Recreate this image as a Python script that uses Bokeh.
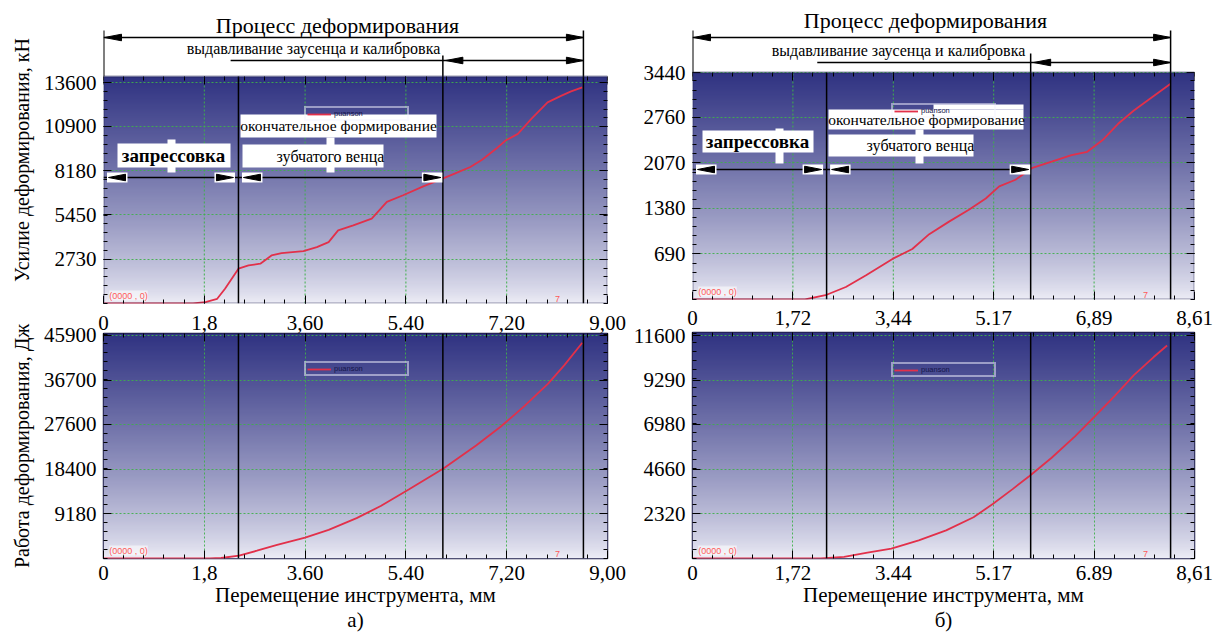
import numpy as np
from bokeh.plotting import figure
from bokeh.models import (FixedTicker, LinearAxis, Range1d, Arrow, Label,
                          BoxAnnotation, PolyAnnotation, Grid)
from bokeh.layouts import row, column
from bokeh.embed import file_html
from bokeh.resources import INLINE

# ---------------- data: panel а) ----------------
a_x_ticks = [0, 1.8, 3.6, 5.4, 7.2, 9.0]
a_x_labels_mid = ["0", "1,8", "3,60", "5.40", "7,20", "9,00"]
a_x_labels_bot = ["0", "1,8", "3.60", "5.40", "7,20", "9,00"]
a_force_ticks = [2730, 5450, 8180, 10900, 13600]
a_work_ticks = [9180, 18400, 27600, 36700, 45900]
a_phase = [2.41, 6.06, 8.57]
a_extrude_start = 2.27
a_force_x = [0.0, 1.6, 1.82, 2.03, 2.17, 2.41, 2.59, 2.80, 3.00, 3.18, 3.57, 3.81, 4.02, 4.19,
             4.46, 4.79, 5.06, 5.35, 5.71, 6.01, 6.27, 6.55, 6.76, 7.01, 7.18, 7.40, 7.64, 7.93,
             8.17, 8.35, 8.55]
a_force_y = [0, 0, 90, 290, 905, 2140, 2340, 2450, 2960, 3100, 3225, 3470, 3780, 4500,
             4810, 5220, 6250, 6660, 7210, 7620, 7990, 8400, 8850, 9520, 10030, 10440, 11360, 12380,
             12780, 13050, 13300]
a_work_x = [0.0, 1.9, 2.1, 2.42, 2.74, 3.1, 3.6, 4.02, 4.52, 4.95, 5.45, 6.07, 6.66, 7.09,
            7.51, 7.94, 8.23, 8.55]
a_work_y = [0, 0, 100, 600, 1600, 2800, 4300, 5900, 8300, 10800, 14200, 18500, 23300, 27100,
            31300, 36000, 39800, 44400]

# ---------------- data: panel б) ----------------
b_x_ticks = [0, 1.722, 3.444, 5.166, 6.888, 8.61]
b_x_labels_mid = ["0", "1,72", "3,44", "5.17", "6,89", "8,61"]
b_x_labels_bot = ["0", "1,72", "3.44", "5.17", "6.89", "8,61"]
b_force_ticks = [690, 1380, 2070, 2760, 3440]
b_work_ticks = [2320, 4660, 6980, 9290, 11600]
b_phase = [2.30, 5.80, 8.20]
b_extrude_start = 2.14
b_force_x = [0.0, 1.93, 2.28, 2.63, 2.97, 3.43, 3.77, 4.06, 4.40, 4.74, 5.03, 5.26, 5.54, 5.83,
             6.16, 6.50, 6.77, 7.03, 7.30, 7.57, 7.84, 8.20]
b_force_y = [0, 0, 65, 190, 365, 615, 765, 990, 1180, 1360, 1530, 1715, 1815, 1995,
             2088, 2188, 2238, 2413, 2663, 2864, 3039, 3270]
b_work_x = [0.0, 2.2, 2.6, 3.0, 3.41, 3.88, 4.35, 4.82, 5.15, 5.49, 5.78, 6.16, 6.56, 6.9,
            7.23, 7.57, 7.91, 8.14]
b_work_y = [0, 0, 86, 310, 516, 946, 1462, 2150, 2838, 3612, 4300, 5246, 6364, 7396,
            8428, 9546, 10492, 11094]

# ---------------- texts ----------------
T_PROCESS = "Процесс деформирования"
T_EXTRUDE = "выдавливание заусенца и калибровка"
T_PRESS = "запрессовка"
T_FINAL1 = "окончательное формирование"
T_FINAL2 = "зубчатого венца"
T_FORCE = "Усилие деформирования, кН"
T_WORK = "Работа деформирования, Дж"
T_XTITLE = "Перемещение инструмента, мм"
LEGEND = "puanson"

SERIF = "Liberation Serif"
RED = "#e2304a"
FRAME_COLOR = "#1c1c48"
GRID_COLOR = "#3fb04a"


class Frame:
    """maps page pixels of the data area to data units"""
    def __init__(self, left, top, w, h, xmax, ymax):
        self.left, self.top, self.w, self.h, self.xmax, self.ymax = left, top, w, h, xmax, ymax

    def x(self, X):
        return (X - self.left) / self.w * self.xmax

    def y(self, Y):
        return (self.top + self.h - Y) / self.h * self.ymax

    def dx(self, px):
        return px / self.w * self.xmax

    def dy(self, px):
        return px / self.h * self.ymax


def gradient(ny=200):
    t = np.linspace(0, 1, ny) ** 0.8
    top = np.array([48, 51, 130.0])
    bot = np.array([238, 238, 247.0])
    rgb = bot + (top - bot) * t[:, None]
    img = np.empty((ny, 1), dtype=np.uint32)
    v = img.view(dtype=np.uint8).reshape((ny, 1, 4))
    v[:, 0, 0] = rgb[:, 0]
    v[:, 0, 1] = rgb[:, 1]
    v[:, 0, 2] = rgb[:, 2]
    v[:, 0, 3] = 255
    return img


def base_fig(width, height, bl, br, bt, bb, fr, y_end, outline):
    p = figure(width=width, height=height, x_range=Range1d(0, fr.xmax), y_range=Range1d(0, y_end),
               output_backend="svg", toolbar_location=None, x_axis_location=None, y_axis_location=None,
               min_border_left=bl, min_border_right=br, min_border_top=bt, min_border_bottom=bb,
               background_fill_color="white", border_fill_color="white",
               outline_line_color=FRAME_COLOR if outline else None, outline_line_width=1.5)
    p.center = [r for r in p.center if not isinstance(r, Grid)]
    p.image_rgba(image=[gradient()], x=0, y=0, dw=fr.xmax, dh=fr.ymax, level="image")
    return p


def add_axis(p, side, ticks, minor, labels=None, standoff=0, fixed=None):
    ax = LinearAxis(ticker=FixedTicker(ticks=ticks, minor_ticks=minor))
    ax.axis_line_color = None
    ax.major_tick_in = 8
    ax.major_tick_out = 0
    ax.minor_tick_in = 4
    ax.minor_tick_out = 0
    ax.major_tick_line_color = "black"
    ax.minor_tick_line_color = "black"
    if fixed is not None:
        ax.fixed_location = fixed
    if labels is None:
        ax.major_label_text_font_size = "0px"
        ax.major_label_text_alpha = 0
        ax.major_label_standoff = 0
    else:
        ax.major_label_overrides = {t: l for t, l in zip(ticks, labels)}
        ax.major_label_text_font = SERIF
        ax.major_label_text_font_size = "21px"
        ax.major_label_text_color = "black"
        ax.major_label_standoff = standoff
    p.add_layout(ax, side)
    return ax


def axis_title(ax, s, size, standoff, line_height=1.2):
    ax.axis_label = s
    ax.axis_label_text_font = SERIF
    ax.axis_label_text_font_size = f"{size}px"
    ax.axis_label_text_font_style = "normal"
    ax.axis_label_text_color = "black"
    ax.axis_label_standoff = standoff
    ax.axis_label_text_line_height = line_height


def seg(p, x0, y0, x1, y1, w=1.4, color="black", dash="solid", level="annotation"):
    p.add_layout(Arrow(start=None, end=None, x_start=x0, y_start=y0, x_end=x1, y_end=y1,
                       line_color=color, line_width=w, line_dash=dash, level=level))


def head(p, fr, tip_x, y, direction, boxed=False):
    L = fr.dx(17)
    W = fr.dy(3.3)
    if boxed:
        x_a = tip_x + direction * fr.dx(1.5)
        x_b = tip_x - direction * fr.dx(19)
        p.add_layout(BoxAnnotation(left=min(x_a, x_b), right=max(x_a, x_b), bottom=y - fr.dy(5),
                                   top=y + fr.dy(5), fill_color="white", fill_alpha=1, line_color=None))
    xs = [tip_x, tip_x - direction * L, tip_x - direction * L]
    ys = [y, y + W, y - W]
    p.add_layout(PolyAnnotation(xs=xs, ys=ys, fill_color="black", fill_alpha=1,
                                line_color="black", line_alpha=1, line_width=1))


def wbox(p, fr, L, R, T, B):
    p.add_layout(BoxAnnotation(left=fr.x(L), right=fr.x(R), top=fr.y(T), bottom=fr.y(B),
                               fill_color="white", fill_alpha=1, line_color=None))


def text(p, x, y, s, size, bold=False, color="black", font=SERIF, bg=None):
    lab = Label(x=x, y=y, text=s, text_font=font, text_font_size=f"{size}px",
                text_font_style="bold" if bold else "normal", text_align="center",
                text_baseline="middle", text_color=color)
    if bg is not None:
        lab.background_fill_color = bg
        lab.background_fill_alpha = 0.55
    p.add_layout(lab)


def style_legend(p, loc):
    lg = p.legend[0]
    lg.location = loc
    lg.background_fill_alpha = 0
    lg.border_line_color = "#f4f4ff"
    lg.border_line_width = 2
    lg.label_text_font = "Liberation Sans"
    lg.label_text_font_size = "7.5px"
    lg.label_text_color = "#15154a"
    lg.padding = 1
    lg.margin = 0
    lg.spacing = 0
    lg.glyph_height = 8
    lg.glyph_width = 24
    lg.label_height = 8
    lg.label_width = 72
    lg.label_standoff = 3


def build_panel(P):
    xmax = P["x_ticks"][-1]
    xminor = list(np.round(np.arange(0, xmax + 1e-6, P["x_ticks"][1] / 5), 4))
    ph = P["phase"]
    inner_x = P["x_ticks"][1:-1]

    # ---------- top: force (frame also holds the dimension lines above the data area) ----------
    ft = P["top"]
    fr = Frame(P["fl"], ft["ft"], P["fw"], ft["fh"], xmax, ft["ymax"])
    frame_h_total = ft["ft"] + ft["fh"] - ft["bt"]
    p = base_fig(P["col_w"], ft["h"], P["bl"], P["col_w"] - P["bl"] - P["fw"], ft["bt"],
                 ft["h"] - ft["bt"] - frame_h_total, fr, fr.y(ft["bt"]), outline=False)
    ystep = P["force_ticks"][1] - P["force_ticks"][0]
    yminor = list(np.arange(0, fr.ymax, ystep / 5))
    add_axis(p, "below", P["x_ticks"], xminor)
    add_axis(p, "above", P["x_ticks"], xminor, fixed=fr.ymax)
    axl = add_axis(p, "left", P["force_ticks"], yminor, [str(t) for t in P["force_ticks"]], 7)
    if P["ytitles"]:
        axis_title(axl, T_FORCE, 20, 8)
    add_axis(p, "right", P["force_ticks"], yminor)
    p.add_layout(Grid(dimension=1, ticker=FixedTicker(ticks=P["force_ticks"]), grid_line_color=GRID_COLOR,
                      grid_line_dash="2 2", grid_line_width=1, grid_line_alpha=0.9))
    for xv in inner_x:
        seg(p, xv, 0, xv, fr.ymax, 1, GRID_COLOR, "2 2", "underlay")
    p.line(P["force_x"], P["force_y"], line_color=RED, line_width=1.8, legend_label=LEGEND)
    style_legend(p, P["legend_loc"])

    A = P["ann"]
    # phase boundaries and dimension lines
    seg(p, ph[0], 0, ph[0], fr.ymax, 1.5)
    seg(p, ph[1], 0, ph[1], fr.y(A["v_mid"]), 1.5)
    seg(p, ph[2], 0, ph[2], fr.y(A["v_top"]), 1.5)
    seg(p, 0, fr.ymax, 0, fr.y(A["v_top"]), 2)
    y1 = fr.y(A["row1"])
    seg(p, 0, y1, ph[2], y1)
    head(p, fr, fr.dx(1), y1, -1)
    head(p, fr, ph[2], y1, +1)
    y2 = fr.y(A["row2"])
    seg(p, P["extrude_start"], y2, ph[2], y2)
    head(p, fr, ph[1] + fr.dx(3), y2, -1)
    head(p, fr, ph[2], y2, +1)
    text(p, fr.x(A["t1"][0]), fr.y(A["t1"][1]), T_PROCESS, 22)
    text(p, fr.x(A["t2"][0]), fr.y(A["t2"][1]), T_EXTRUDE, 16)
    y3 = fr.y(A["row3"])
    seg(p, 0, y3, ph[1], y3)
    head(p, fr, fr.dx(5), y3, -1, True)
    head(p, fr, ph[0] - fr.dx(5), y3, +1, True)
    head(p, fr, ph[0] + fr.dx(5), y3, -1, True)
    head(p, fr, ph[1] - fr.dx(2), y3, +1, True)
    for bx in A["boxes"]:
        wbox(p, fr, *bx)
    text(p, fr.x(A["press"][0]), fr.y(A["press"][1]), T_PRESS, 19, bold=True)
    text(p, fr.x(A["fin1"][0]), fr.y(A["fin1"][1]), T_FINAL1, 15.5)
    text(p, fr.x(A["fin2"][0]), fr.y(A["fin2"][1]), T_FINAL2, 16)
    text(p, fr.dx(25), fr.dy(8), "(0000 , 0)", 9, color="#ff5a5a", font="Liberation Sans", bg="white")
    text(p, fr.x(A["seven"]), fr.dy(5), "7", 9, color="#ff5a5a", font="Liberation Sans")
    p.add_layout(BoxAnnotation(left=0, right=xmax, bottom=0, top=fr.ymax, fill_alpha=0,
                               line_color=FRAME_COLOR, line_width=2.5))

    # ---------- bottom: work ----------
    fb = P["bot"]
    gb = Frame(P["fl"], fb["ft"], P["fw"], fb["fh"], xmax, fb["ymax"])
    q = base_fig(P["col_w"], fb["h"], P["bl"], P["col_w"] - P["bl"] - P["fw"], fb["bt"],
                 fb["h"] - fb["bt"] - fb["fh"], gb, gb.ymax, outline=True)
    ystep = P["work_ticks"][1] - P["work_ticks"][0]
    yminor = list(np.arange(0, gb.ymax, ystep / 5))
    axb = add_axis(q, "below", P["x_ticks"], xminor, P["x_labels_bot"], fb["sb"])
    axis_title(axb, T_XTITLE + "\n" + P["tag"], 21, fb["st"], 1.05)
    add_axis(q, "above", P["x_ticks"], xminor, P["x_labels_mid"], fb["sa"])
    axl = add_axis(q, "left", P["work_ticks"], yminor, [str(t) for t in P["work_ticks"]], 7)
    if P["ytitles"]:
        axis_title(axl, T_WORK, 20, 8)
    add_axis(q, "right", P["work_ticks"], yminor)
    q.add_layout(Grid(dimension=1, ticker=FixedTicker(ticks=P["work_ticks"]), grid_line_color=GRID_COLOR,
                      grid_line_dash="2 2", grid_line_width=1, grid_line_alpha=0.9))
    q.add_layout(Grid(dimension=0, ticker=FixedTicker(ticks=inner_x), grid_line_color=GRID_COLOR,
                      grid_line_dash="2 2", grid_line_width=1, grid_line_alpha=0.9))
    q.line(P["work_x"], P["work_y"], line_color=RED, line_width=1.8, legend_label=LEGEND)
    style_legend(q, P["legend_loc"])
    for xv in ph:
        seg(q, xv, 0, xv, gb.ymax, 1.5)
    text(q, gb.dx(25), gb.dy(8), "(0000 , 0)", 9, color="#ff5a5a", font="Liberation Sans", bg="white")
    text(q, gb.x(A["seven"]), gb.dy(5), "7", 9, color="#ff5a5a", font="Liberation Sans")
    return column(p, q)


PA = dict(
    x_ticks=a_x_ticks, x_labels_mid=a_x_labels_mid, x_labels_bot=a_x_labels_bot,
    force_ticks=a_force_ticks, work_ticks=a_work_ticks, phase=a_phase, extrude_start=a_extrude_start,
    force_x=a_force_x, force_y=a_force_y, work_x=a_work_x, work_y=a_work_y, tag="а)", ytitles=True,
    col_w=628, bl=103, fl=103, fw=504,
    top=dict(h=305, bt=16, fh=227, ft=76, ymax=13970),
    bot=dict(h=329, bt=28, fh=227, ft=333, ymax=46300, sa=4, sb=7, st=0),
    legend_loc=(201, 182),
    ann=dict(v_top=30, v_mid=55, row1=37, row2=60, row3=177, t1=(337, 25), t2=(313, 48),
             boxes=[(117, 230, 143, 167), (167, 175, 139, 172), (240, 436, 114, 137),
                    (242, 383, 144, 167), (326, 334, 137, 172)],
             press=(173, 155), fin1=(338, 125), fin2=(330, 156), seven=557),
)

PB = dict(
    x_ticks=b_x_ticks, x_labels_mid=b_x_labels_mid, x_labels_bot=b_x_labels_bot,
    force_ticks=b_force_ticks, work_ticks=b_work_ticks, phase=b_phase, extrude_start=b_extrude_start,
    force_x=b_force_x, force_y=b_force_y, work_x=b_work_x, work_y=b_work_y, tag="б)", ytitles=False,
    col_w=596, bl=64, fl=692, fw=502,
    top=dict(h=300, bt=4, fh=227, ft=72, ymax=3440),
    bot=dict(h=334, bt=32, fh=226, ft=332, ymax=11770, sa=8, sb=7, st=0),
    legend_loc=(199, 181),
    ann=dict(v_top=30, v_mid=53, row1=37, row2=62, row3=169, t1=(925, 20), t2=(898, 50),
             boxes=[(702, 813, 130, 152), (775, 783, 128, 163), (828, 1023, 109, 129),
                    (933, 1023, 104, 109), (828, 973, 134, 156), (915, 923, 129, 163)],
             press=(757, 141), fin1=(926, 119), fin2=(920, 145), seven=1145),
)

layout = row(build_panel(PA), build_panel(PB))
open("out.html", "w").write(file_html(layout, INLINE))
